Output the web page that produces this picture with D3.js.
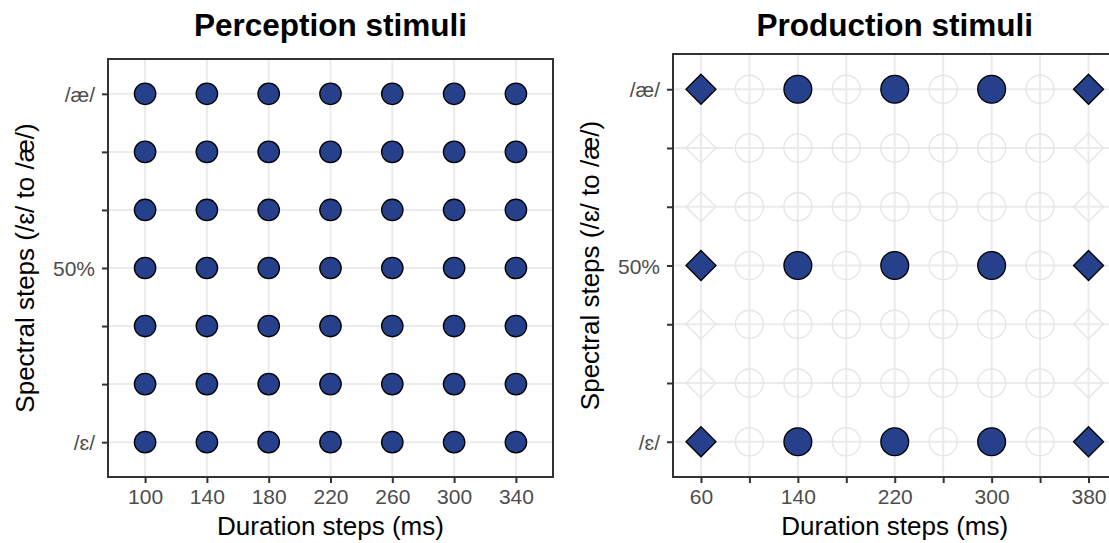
<!DOCTYPE html>
<html>
<head>
<meta charset="utf-8">
<script src="https://cdn.jsdelivr.net/npm/d3@7"></script>
<style>
  html, body { margin: 0; padding: 0; background: #ffffff; }
  svg { display: block; font-family: "Liberation Sans", Arial, Helvetica, sans-serif; }
</style>
</head>
<body>
<svg id="chart" width="1109" height="543"></svg>
<script>
// ---------------- data ----------------
const spectralSteps = [1, 2, 3, 4, 5, 6, 7];
const spectralTickLabels = ["/ɛ/", "", "", "50%", "", "", "/æ/"];

const perceptionDurations = [100, 140, 180, 220, 260, 300, 340];
const perceptionTickLabels = ["100", "140", "180", "220", "260", "300", "340"];

const productionGridDurations = [60, 100, 140, 180, 220, 260, 300, 340, 380];
const productionTickLabels = ["60", "", "140", "", "220", "", "300", "", "380"];
const productionFilledDurations = [60, 140, 220, 300, 380];
const productionFilledSteps = [1, 4, 7];
const productionEndpointDurations = [60, 380]; // drawn as diamonds

const titles = ["Perception stimuli", "Production stimuli"];
const xTitle = "Duration steps (ms)";
const yTitle = "Spectral steps (/ɛ/ to /æ/)";

// ---------------- layout ----------------
const svg = d3.select("#chart");
const FILL = "#27408B";
const GRID = "#ebebeb";
const DARK = "#333333";
const TICKTXT = "#4d4d4d";

function drawPanel(cfg) {
  const g = svg.append("g");
  const x = d3.scaleLinear().domain(cfg.xDomain).range([cfg.x0, cfg.x1]);
  const y = d3.scaleLinear().domain([0.4, 7.6]).range([cfg.y1, cfg.y0]);

  const clipId = "clip" + cfg.id;
  svg.append("clipPath").attr("id", clipId)
    .append("rect").attr("x", cfg.x0).attr("y", cfg.y0)
    .attr("width", cfg.x1 - cfg.x0).attr("height", cfg.y1 - cfg.y0);

  const inner = g.append("g").attr("clip-path", `url(#${clipId})`);

  // gridlines
  inner.selectAll(".vg").data(cfg.xTicks).enter().append("line")
    .attr("x1", d => x(d)).attr("x2", d => x(d))
    .attr("y1", cfg.y0).attr("y2", cfg.y1)
    .attr("stroke", GRID).attr("stroke-width", 2);
  inner.selectAll(".hg").data(spectralSteps).enter().append("line")
    .attr("y1", d => y(d)).attr("y2", d => y(d))
    .attr("x1", cfg.x0).attr("x2", cfg.x1)
    .attr("stroke", GRID).attr("stroke-width", 2);

  cfg.drawMarks(inner, x, y);

  // panel border
  g.append("rect").attr("x", cfg.x0).attr("y", cfg.y0)
    .attr("width", cfg.x1 - cfg.x0).attr("height", cfg.y1 - cfg.y0)
    .attr("fill", "none").attr("stroke", DARK).attr("stroke-width", 2);

  // x axis
  const xa = g.append("g").attr("transform", `translate(0,${cfg.y1})`)
    .call(d3.axisBottom(x).tickValues(cfg.xTicks)
      .tickFormat((d, i) => cfg.xLabels[i]).tickSize(6).tickSizeOuter(0));
  xa.select(".domain").remove();
  xa.selectAll(".tick line").attr("stroke", DARK).attr("stroke-width", 2);
  xa.selectAll(".tick text").attr("y", 27).attr("dy", 0)
    .attr("fill", TICKTXT).style("font-size", "21px")
    .style("font-family", "Liberation Sans, Arial, sans-serif");

  // y axis
  const ya = g.append("g").attr("transform", `translate(${cfg.x0},0)`)
    .call(d3.axisLeft(y).tickValues(spectralSteps)
      .tickFormat((d, i) => spectralTickLabels[i]).tickSize(6).tickSizeOuter(0).tickPadding(7));
  ya.select(".domain").remove();
  ya.selectAll(".tick line").attr("stroke", DARK).attr("stroke-width", 2);
  ya.selectAll(".tick text").attr("dy", "0.36em")
    .attr("fill", TICKTXT).style("font-size", "21px")
    .style("font-family", "Liberation Sans, Arial, sans-serif");

  // titles
  const cx = (cfg.x0 + cfg.x1) / 2;
  g.append("text").attr("x", cx).attr("y", 36).attr("text-anchor", "middle")
    .style("font-size", "31.5px").style("font-weight", "bold").attr("fill", "#000")
    .text(cfg.title);
  g.append("text").attr("x", cx).attr("y", 535).attr("text-anchor", "middle")
    .style("font-size", "26px").attr("fill", "#000").text(xTitle);
  const cy = (cfg.y0 + cfg.y1) / 2;
  g.append("text").attr("transform", `translate(${cfg.x0 - 74},${cy}) rotate(-90)`)
    .attr("text-anchor", "middle")
    .style("font-size", "26px").attr("fill", "#000").text(yTitle);
}

function diamondPath(cx, cy, r) {
  return `M${cx},${cy - r}L${cx + r},${cy}L${cx},${cy + r}L${cx - r},${cy}Z`;
}

// Perception panel
drawPanel({
  id: "p", title: titles[0],
  x0: 108, x1: 553, y0: 59, y1: 477,
  xDomain: [76, 364],
  xTicks: perceptionDurations, xLabels: perceptionTickLabels,
  drawMarks: (inner, x, y) => {
    const pts = [];
    perceptionDurations.forEach(d => spectralSteps.forEach(s => pts.push({ d, s })));
    inner.selectAll(".pt").data(pts).enter().append("circle")
      .attr("cx", p => x(p.d)).attr("cy", p => y(p.s)).attr("r", 10.7)
      .attr("fill", FILL).attr("stroke", "#000").attr("stroke-width", 1.3);
  }
});

// Production panel
drawPanel({
  id: "q", title: titles[1],
  x0: 673, x1: 1116.5, y0: 54, y1: 477,
  xDomain: [36.9, 403.1],
  xTicks: productionGridDurations, xLabels: productionTickLabels,
  drawMarks: (inner, x, y) => {
    const all = [];
    productionGridDurations.forEach(d => spectralSteps.forEach(s => all.push({ d, s })));
    const isEnd = d => productionEndpointDurations.includes(d);
    // hollow candidate grid
    inner.selectAll(".hc").data(all.filter(p => !isEnd(p.d))).enter().append("circle")
      .attr("cx", p => x(p.d)).attr("cy", p => y(p.s)).attr("r", 14)
      .attr("fill", "none").attr("stroke", "#e6e6e6").attr("stroke-width", 1.4);
    inner.selectAll(".hd").data(all.filter(p => isEnd(p.d))).enter().append("path")
      .attr("d", p => diamondPath(x(p.d), y(p.s), 15))
      .attr("fill", "none").attr("stroke", "#e6e6e6").attr("stroke-width", 1.4);
    // filled stimuli
    const filled = [];
    productionFilledDurations.forEach(d => productionFilledSteps.forEach(s => filled.push({ d, s })));
    inner.selectAll(".fc").data(filled.filter(p => !isEnd(p.d))).enter().append("circle")
      .attr("cx", p => x(p.d)).attr("cy", p => y(p.s)).attr("r", 13.9)
      .attr("fill", FILL).attr("stroke", "#000").attr("stroke-width", 1.3);
    inner.selectAll(".fd").data(filled.filter(p => isEnd(p.d))).enter().append("path")
      .attr("d", p => diamondPath(x(p.d), y(p.s), 15))
      .attr("fill", FILL).attr("stroke", "#000").attr("stroke-width", 1.3)
      .attr("stroke-linejoin", "miter");
  }
});
</script>
</body>
</html>
